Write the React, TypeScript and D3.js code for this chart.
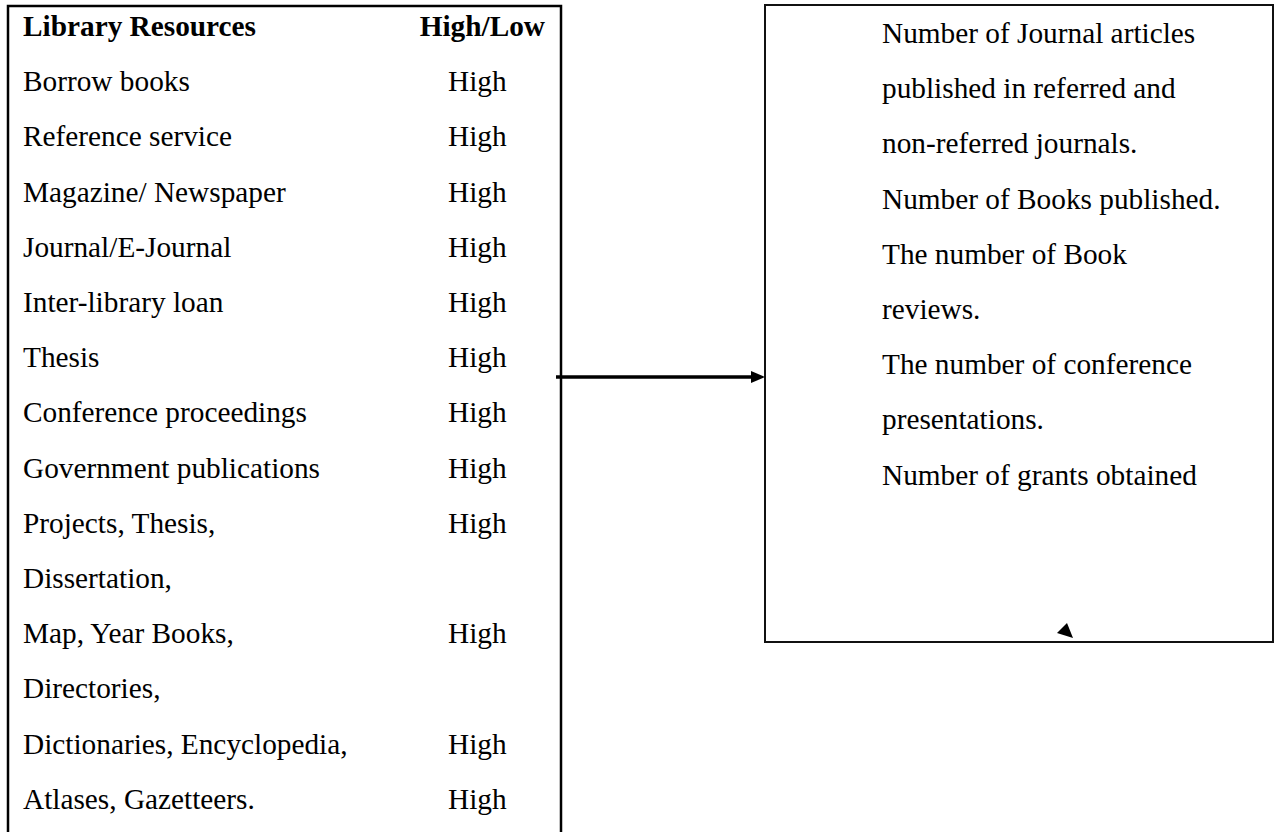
import React from "react";
import * as d3 from "d3";

const headerLeft = "Library Resources";
const headerRight = "High/Low";
const resources = [
  "Borrow books",
  "Reference service",
  "Magazine/ Newspaper",
  "Journal/E-Journal",
  "Inter-library loan",
  "Thesis",
  "Conference proceedings",
  "Government publications",
  "Projects, Thesis,",
  "Dissertation,",
  "Map, Year Books,",
  "Directories,",
  "Dictionaries, Encyclopedia,",
  "Atlases, Gazetteers.",
];
const levels = ["High", "High", "High", "High", "High", "High", "High", "High", "High", "", "High", "", "High", "High"];
const outcomes = [
  "Number of Journal articles",
  "published in referred and",
  "non-referred journals.",
  "Number of Books published.",
  "The number of Book",
  "reviews.",
  "The number of conference",
  "presentations.",
  "Number of grants obtained",
];

const W = 1282;
const H = 832;
const FONT = "'Liberation Serif', 'Times New Roman', serif";

export default function App() {
  const rowStep = 55.2;
  const yLeft = d3.scaleLinear().domain([0, 1]).range([36, 36 + rowStep]);
  const yRight = d3.scaleLinear().domain([0, 1]).range([43, 43 + rowStep]);
  const fs = 29.3;

  const leftBox = { x0: 8, x1: 561, y0: 6, y1: 860 };
  const rightBox = { x0: 765, x1: 1273, y0: 5, y1: 642 };
  const arrowY = 377;

  const lineGen = d3.line();
  const tri = lineGen([[1067, 623], [1057, 633], [1073, 638]]) + "Z";
  const head = lineGen([[765, arrowY], [751, arrowY - 6], [751, arrowY + 6]]) + "Z";

  return (
    <svg width={W} height={H} style={{ position: "absolute", left: 0, top: 0, background: "#fff" }}>
      <rect x={0} y={0} width={W} height={H} fill="#fff" />
      <rect x={leftBox.x0} y={leftBox.y0} width={leftBox.x1 - leftBox.x0} height={leftBox.y1 - leftBox.y0} fill="none" stroke="#000" strokeWidth={2.5} />
      <rect x={rightBox.x0} y={rightBox.y0} width={rightBox.x1 - rightBox.x0} height={rightBox.y1 - rightBox.y0} fill="none" stroke="#111" strokeWidth={2} />
      <g fontFamily={FONT} fontSize={fs} fill="#000">
        <text x={23} y={yLeft(0)} fontWeight="bold">{headerLeft}</text>
        <text x={545} y={yLeft(0)} fontWeight="bold" textAnchor="end">{headerRight}</text>
        {resources.map((r, i) => (
          <text key={"r" + i} x={23} y={yLeft(i + 1)}>{r}</text>
        ))}
        {levels.map((l, i) => (l ? <text key={"l" + i} x={448} y={yLeft(i + 1)}>{l}</text> : null))}
        {outcomes.map((o, i) => (
          <text key={"o" + i} x={882} y={yRight(i)}>{o}</text>
        ))}
      </g>
      <line x1={556} y1={arrowY} x2={753} y2={arrowY} stroke="#000" strokeWidth={3.3} />
      <path d={head} fill="#000" />
      <path d={tri} fill="#000" />
    </svg>
  );
}
